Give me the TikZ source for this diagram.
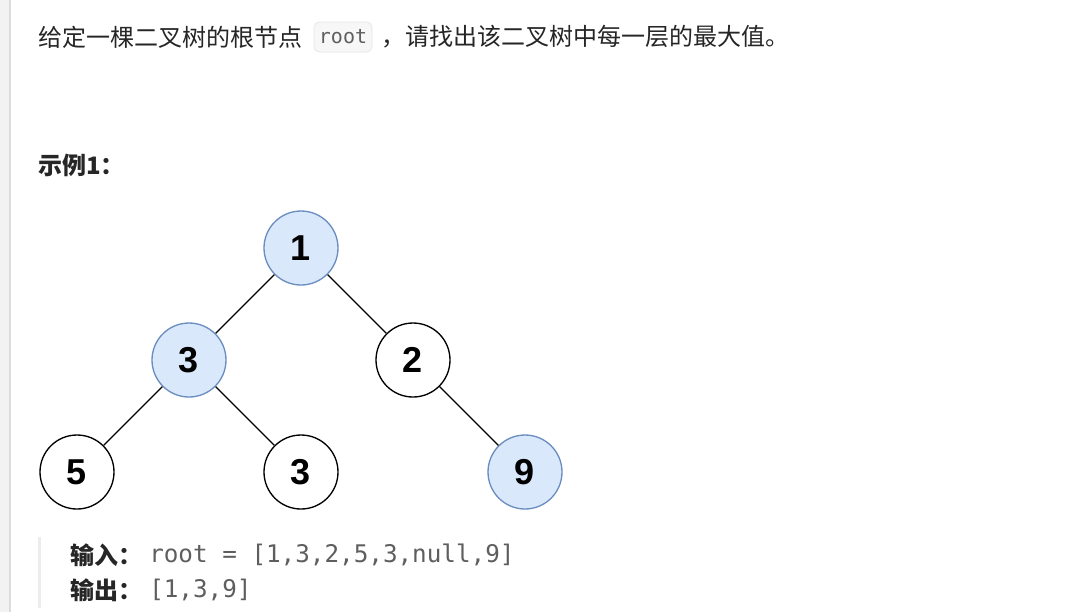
\documentclass[tikz,border=0pt]{standalone}
\usepackage{fontspec}
\setmainfont{Noto Sans CJK SC}
\setmonofont{DejaVu Sans Mono}
\newfontfamily\digitfont{Liberation Sans}
\definecolor{textdark}{HTML}{262626}
\definecolor{codegray}{HTML}{5E5E5E}
\definecolor{hlfill}{HTML}{DAE8FC}
\definecolor{hlline}{HTML}{6C8EBF}
\definecolor{stripgray}{HTML}{F2F2F2}
\definecolor{stripline}{HTML}{DCDCDC}
\definecolor{quotebar}{HTML}{ECECEC}
\definecolor{codefill}{HTML}{F7F7F7}
\definecolor{codeline}{HTML}{E6E6E6}
\tikzset{
  tnode/.style={circle,draw=black,fill=white,line width=1pt,minimum size=55.5pt,inner sep=0pt,
    font=\digitfont\bfseries\fontsize{27}{27}\selectfont},
  hlnode/.style={tnode,draw=hlline,fill=hlfill},
  edge/.style={draw=black,line width=0.9pt},
  txt/.style={anchor=west,inner sep=0pt,text=textdark,font=\fontsize{18}{22}\selectfont},
  codebox/.style={rounded corners=4pt,fill=codefill,draw=codeline,line width=0.6pt,
    minimum width=43.5pt,minimum height=22.5pt,inner sep=0pt,text=codegray,
    font=\ttfamily\fontsize{15}{17}\selectfont}
}
\begin{document}
\begin{tikzpicture}[x=0.75pt,y=-0.75pt]
\useasboundingbox (0,0) rectangle (1070,612);
\fill[white] (0,0) rectangle (1070,612);
% left strip
\fill[stripgray] (0,0) rectangle (9,612);
\draw[stripline,line width=1.2pt] (10,0) -- (10,612);

% question text
\node[txt] (q1) at (38,37) {给定一棵二叉树的根节点};
\node[codebox] (code) at (343,37) {root};
\node[txt] (q2) at (381,37) {，请找出该二叉树中每一层的最大值。};

\node[txt,font=\bfseries\fontsize{18}{22}\selectfont] (ex) at (38,165) {示例1：};

% tree
\node[hlnode] (n1) at (301,248) {1};
\node[hlnode] (n3a) at (189,360) {3};
\node[tnode] (n2) at (413,360) {2};
\node[tnode] (n5) at (77,472) {5};
\node[tnode] (n3b) at (301,472) {3};
\node[hlnode] (n9) at (525,472) {9};
\draw[edge] (n1) -- (n3a);
\draw[edge] (n1) -- (n2);
\draw[edge] (n3a) -- (n5);
\draw[edge] (n3a) -- (n3b);
\draw[edge] (n2) -- (n9);

% input / output
\fill[quotebar] (38,537) rectangle (41,608);
\node[txt,font=\bfseries\fontsize{18}{22}\selectfont] (inl) at (70,555) {输入：};
\node[txt,text=codegray,font=\ttfamily\fontsize{18.2}{22}\selectfont] (inv) at (149,555) {root = [1,3,2,5,3,null,9]};
\node[txt,font=\bfseries\fontsize{18}{22}\selectfont] (outl) at (70,590) {输出：};
\node[txt,text=codegray,font=\ttfamily\fontsize{18.2}{22}\selectfont] (outv) at (149,590) {[1,3,9]};
\end{tikzpicture}
\end{document}
